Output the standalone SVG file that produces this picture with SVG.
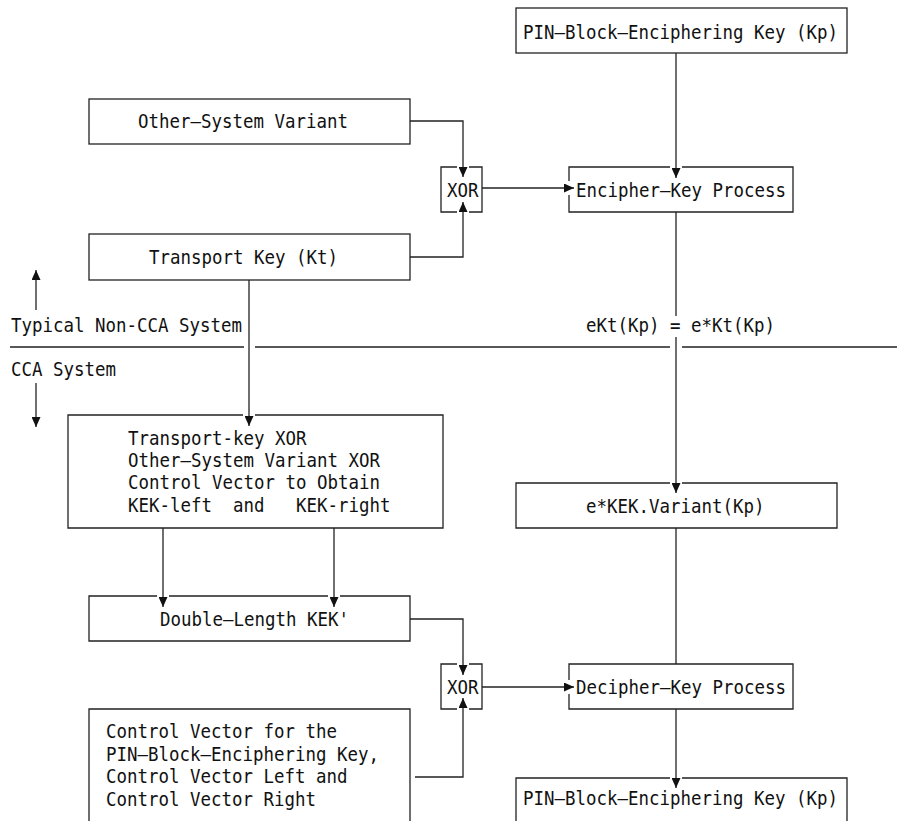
<svg xmlns="http://www.w3.org/2000/svg" width="897" height="821" viewBox="0 0 897 821">
<style>
  .bx { fill: none; stroke: #222; stroke-width: 1.3; }
  .ln { fill: none; stroke: #222; stroke-width: 1.3; }
  .ar { fill: none; stroke: #222; stroke-width: 1.3; marker-end: url(#ah); }
  text { font-family: "DejaVu Sans Mono", "Liberation Mono", monospace; font-size: 19px; fill: #111; white-space: pre; }
</style>
<defs>
  <marker id="ah" markerUnits="userSpaceOnUse" markerWidth="11" markerHeight="9" refX="10" refY="4.5" orient="auto" viewBox="0 0 11 9">
    <path d="M0,0 L10,4.5 L0,9 z" fill="#111"/>
  </marker>
</defs>
<rect width="897" height="821" fill="#fff"/>

<g id="connectors">
  <path class="ar" d="M410,121 H463 V177"/>
  <path class="ar" d="M410,257 H463 V202"/>
  <path class="ar" d="M482,188 H574"/>
  <path class="ar" d="M676,53 V178"/>
  <path class="ln" d="M676,212 V316"/>
  <path class="ar" d="M676,337 V493"/>
  <path class="ar" d="M249,280 V426"/>
  <path class="ar" d="M163,528 V607"/>
  <path class="ar" d="M334,528 V607"/>
  <path class="ar" d="M410,619 H463 V675"/>
  <path class="ar" d="M415,777 H463 V698"/>
  <path class="ar" d="M482,687 H574"/>
  <path class="ln" d="M676,528 V664"/>
  <path class="ar" d="M676,709 V788"/>
  <path class="ln" d="M10,347 H244 M255,347 H670 M682,347 H897"/>
  <path class="ar" d="M36,310 V270"/>
  <path class="ar" d="M36,383 V427"/>
</g>

<g id="pin-key-top">
  <rect class="bx" x="516" y="8" width="331" height="45"/>
  <text x="523" y="39" textLength="315" lengthAdjust="spacingAndGlyphs">PIN—Block—Enciphering Key (Kp)</text>
</g>

<g id="other-system-variant">
  <rect class="bx" x="89" y="99" width="321" height="45"/>
  <text x="138" y="128" textLength="210" lengthAdjust="spacingAndGlyphs">Other—System Variant</text>
</g>

<g id="xor-top">
  <path class="bx" d="M457,167 H441 V212 H457 M469,212 H482 V167 H469"/>
  <text x="447" y="197" textLength="31.5" lengthAdjust="spacingAndGlyphs">XOR</text>
</g>

<g id="encipher-key-process">
  <path class="bx" d="M670,167 H569 V181 M569,195 V212 H793 V167 H682"/>
  <text x="576" y="197" textLength="210" lengthAdjust="spacingAndGlyphs">Encipher—Key Process</text>
</g>

<g id="transport-key">
  <rect class="bx" x="89" y="234" width="321" height="46"/>
  <text x="149" y="264" textLength="189" lengthAdjust="spacingAndGlyphs">Transport Key (Kt)</text>
</g>

<g id="system-labels">
  <text x="11" y="332" textLength="231" lengthAdjust="spacingAndGlyphs">Typical Non-CCA System</text>
  <text x="586" y="332" textLength="189" lengthAdjust="spacingAndGlyphs">eKt(Kp) = e*Kt(Kp)</text>
  <text x="11" y="376" textLength="105" lengthAdjust="spacingAndGlyphs">CCA System</text>
</g>

<g id="kek-derivation">
  <path class="bx" d="M243,415 H68 V528 H443 V415 H255"/>
  <text x="128" y="445" textLength="178.5" lengthAdjust="spacingAndGlyphs">Transport-key XOR</text>
  <text x="128" y="467" textLength="252" lengthAdjust="spacingAndGlyphs">Other—System Variant XOR</text>
  <text x="128" y="489" textLength="252" lengthAdjust="spacingAndGlyphs">Control Vector to Obtain</text>
  <text x="128" y="512" textLength="262.5" lengthAdjust="spacingAndGlyphs">KEK-left  and   KEK-right</text>
</g>

<g id="ekek-variant">
  <path class="bx" d="M670,483 H516 V528 H837 V483 H682"/>
  <text x="586" y="513" textLength="178.5" lengthAdjust="spacingAndGlyphs">e*KEK.Variant(Kp)</text>
</g>

<g id="double-length-kek">
  <path class="bx" d="M157,596 H89 V641 H410 V596 H340 M328,596 H169"/>
  <text x="160" y="626" textLength="189" lengthAdjust="spacingAndGlyphs">Double—Length KEK'</text>
</g>

<g id="xor-bottom">
  <path class="bx" d="M457,664 H441 V709 H457 M469,709 H482 V664 H469"/>
  <text x="447" y="694" textLength="31.5" lengthAdjust="spacingAndGlyphs">XOR</text>
</g>

<g id="decipher-key-process">
  <path class="bx" d="M569,680 V664 H793 V709 H569 V694"/>
  <text x="576" y="694" textLength="210" lengthAdjust="spacingAndGlyphs">Decipher—Key Process</text>
</g>

<g id="control-vector">
  <path class="bx" d="M89,822 V709 H410 V822"/>
  <text x="106" y="738" textLength="231" lengthAdjust="spacingAndGlyphs">Control Vector for the</text>
  <text x="106" y="761" textLength="273" lengthAdjust="spacingAndGlyphs">PIN—Block—Enciphering Key,</text>
  <text x="106" y="783" textLength="241.5" lengthAdjust="spacingAndGlyphs">Control Vector Left and</text>
  <text x="106" y="806" textLength="210" lengthAdjust="spacingAndGlyphs">Control Vector Right</text>
</g>

<g id="pin-key-bottom">
  <path class="bx" d="M516,822 V778 H670 M682,778 H847 V822"/>
  <text x="523" y="805" textLength="315" lengthAdjust="spacingAndGlyphs">PIN—Block—Enciphering Key (Kp)</text>
</g>
</svg>
